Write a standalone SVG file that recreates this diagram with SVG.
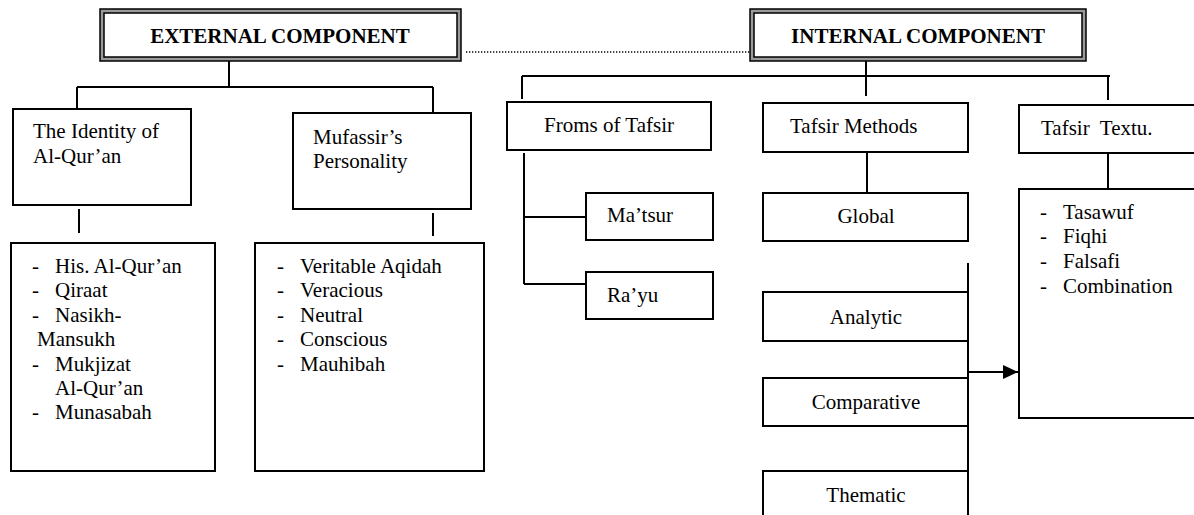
<svg xmlns="http://www.w3.org/2000/svg" width="1194" height="515" viewBox="0 0 1194 515">
<style>
  .box { fill: #fff; stroke: #000; stroke-width: 2; }
  .ln { fill: none; stroke: #000; stroke-width: 2; }
  .t { font-family: "Liberation Serif", "Times New Roman", serif; font-size: 21px; fill: #000; }
  .tc { text-anchor: middle; }
  .title { font-family: "Liberation Serif", "Times New Roman", serif; font-size: 21px; font-weight: bold; text-anchor: middle; fill: #000; }
  .dbl-mid { fill: none; stroke: #9a9a9a; stroke-width: 4; }
  .dbl { fill: none; stroke: #000; stroke-width: 1.5; }
</style>
<defs>
  <marker id="arr" markerWidth="16" markerHeight="16" refX="15" refY="7" orient="auto" markerUnits="userSpaceOnUse">
    <path d="M0,0 L15,7 L0,14 Z" fill="#000"/>
  </marker>
</defs>
<rect width="1194" height="515" fill="#fff"/>

<g id="connectors">
  <line x1="466" y1="52" x2="750" y2="52" stroke="#000" stroke-width="1.3" stroke-dasharray="1.3,1.7"/>
  <path class="ln" d="M229,61 V87 M77,87 H433 M77,87 V110 M433,87 V112"/>
  <path class="ln" d="M79,209 V233 M433,213 V236"/>
  <path class="ln" d="M866,61 V96 M522,76 H1110 M522,76 V99 M1108,76 V100"/>
  <path class="ln" d="M524,153 V284 M524,217 H588 M524,284 H588"/>
  <path class="ln" d="M867,152 V193"/>
  <path class="ln" d="M1108,153 V189"/>
  <path class="ln" d="M968,263 V515"/>
  <line class="ln" x1="968" y1="372" x2="1018" y2="372" marker-end="url(#arr)"/>
</g>

<g id="external">
  <rect x="102" y="11" width="357" height="48" class="dbl-mid"/>
  <rect x="100" y="9" width="361" height="52" class="dbl"/>
  <rect x="104" y="13" width="353" height="44" class="dbl"/>
  <text x="280" y="43" class="title">EXTERNAL COMPONENT</text>
</g>

<g id="internal">
  <rect x="752" y="11" width="332" height="48" class="dbl-mid"/>
  <rect x="750" y="9" width="336" height="52" class="dbl"/>
  <rect x="754" y="13" width="328" height="44" class="dbl"/>
  <text x="918" y="43" class="title">INTERNAL COMPONENT</text>
</g>

<g id="identity">
  <rect x="13" y="109" width="178" height="96" class="box"/>
  <text class="t" x="33" y="138">The Identity of</text>
  <text class="t" x="33" y="163">Al-Qur’an</text>
</g>

<g id="mufassir">
  <rect x="293" y="113" width="178" height="96" class="box"/>
  <text class="t" x="313" y="144">Mufassir’s</text>
  <text class="t" x="313" y="168">Personality</text>
</g>

<g id="identity-list">
  <rect x="11" y="243" width="204" height="228" class="box"/>
  <text class="t" x="32" y="273">-</text><text class="t" x="55" y="273">His. Al-Qur’an</text>
  <text class="t" x="32" y="297">-</text><text class="t" x="55" y="297">Qiraat</text>
  <text class="t" x="32" y="322">-</text><text class="t" x="55" y="322">Nasikh-</text>
  <text class="t" x="37" y="346">Mansukh</text>
  <text class="t" x="32" y="371">-</text><text class="t" x="55" y="371">Mukjizat</text>
  <text class="t" x="55" y="395">Al-Qur’an</text>
  <text class="t" x="32" y="419">-</text><text class="t" x="55" y="419">Munasabah</text>
</g>

<g id="mufassir-list">
  <rect x="255" y="243" width="229" height="228" class="box"/>
  <text class="t" x="277" y="273">-</text><text class="t" x="300" y="273">Veritable Aqidah</text>
  <text class="t" x="277" y="297">-</text><text class="t" x="300" y="297">Veracious</text>
  <text class="t" x="277" y="322">-</text><text class="t" x="300" y="322">Neutral</text>
  <text class="t" x="277" y="346">-</text><text class="t" x="300" y="346">Conscious</text>
  <text class="t" x="277" y="371">-</text><text class="t" x="300" y="371">Mauhibah</text>
</g>

<g id="forms">
  <rect x="507" y="102" width="204" height="48" class="box"/>
  <text class="t tc" x="609" y="132">Froms of Tafsir</text>
</g>

<g id="matsur">
  <rect x="586" y="193" width="127" height="47" class="box"/>
  <text class="t" x="607" y="222">Ma’tsur</text>
</g>

<g id="rayu">
  <rect x="586" y="272" width="127" height="47" class="box"/>
  <text class="t" x="607" y="302">Ra’yu</text>
</g>

<g id="methods">
  <rect x="763" y="103" width="205" height="49" class="box"/>
  <text class="t" x="790" y="133">Tafsir Methods</text>
</g>

<g id="global">
  <rect x="763" y="193" width="205" height="48" class="box"/>
  <text class="t tc" x="866" y="223">Global</text>
</g>

<g id="analytic">
  <rect x="763" y="292" width="205" height="49" class="box"/>
  <text class="t tc" x="866" y="324">Analytic</text>
</g>

<g id="comparative">
  <rect x="763" y="378" width="205" height="48" class="box"/>
  <text class="t tc" x="866" y="409">Comparative</text>
</g>

<g id="thematic">
  <rect x="763" y="471" width="205" height="60" class="box"/>
  <text class="t tc" x="866" y="502">Thematic</text>
</g>

<g id="textu">
  <rect x="1019" y="105" width="200" height="48" class="box"/>
  <text class="t" x="1041" y="135" xml:space="preserve">Tafsir  Textu.</text>
</g>

<g id="textu-list">
  <rect x="1019" y="189" width="200" height="229" class="box"/>
  <text class="t" x="1040" y="219">-</text><text class="t" x="1063" y="219">Tasawuf</text>
  <text class="t" x="1040" y="243">-</text><text class="t" x="1063" y="243">Fiqhi</text>
  <text class="t" x="1040" y="268">-</text><text class="t" x="1063" y="268">Falsafi</text>
  <text class="t" x="1040" y="293">-</text><text class="t" x="1063" y="293">Combination</text>
</g>
</svg>
